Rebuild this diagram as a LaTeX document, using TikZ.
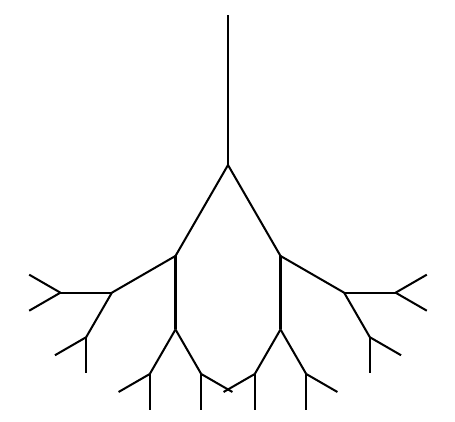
\documentclass[tikz,border=0pt]{standalone}
\usepackage{tikz}
\usetikzlibrary{trees}
\tikzset{
	branch/.style={draw,line width=1.15pt,line cap=butt}
}

\begin{document}
\begin{tikzpicture}[grow cyclic,
            level/.style={level distance=3cm*0.7^(#1-1), sibling angle=60},
            edge from parent/.style={branch}]
            \useasboundingbox (0,0) rectangle (9.1,8.42);
            \begin{scope}[shift={(4.56,8.12)},rotate=-90]
            \coordinate (root)
              child {coordinate (fork)
                child foreach \a in {1,2} {coordinate (l2-\a)
                  child foreach \b in {1,2} {coordinate (l3-\a\b)
                    child foreach \c in {1,2} {coordinate (l4-\a\b\c)
                      child foreach \d in {1,2} {coordinate (l5-\a\b\c\d)}
                    }
                  }
                }
              };
            \end{scope}
          \end{tikzpicture}
\end{document}
